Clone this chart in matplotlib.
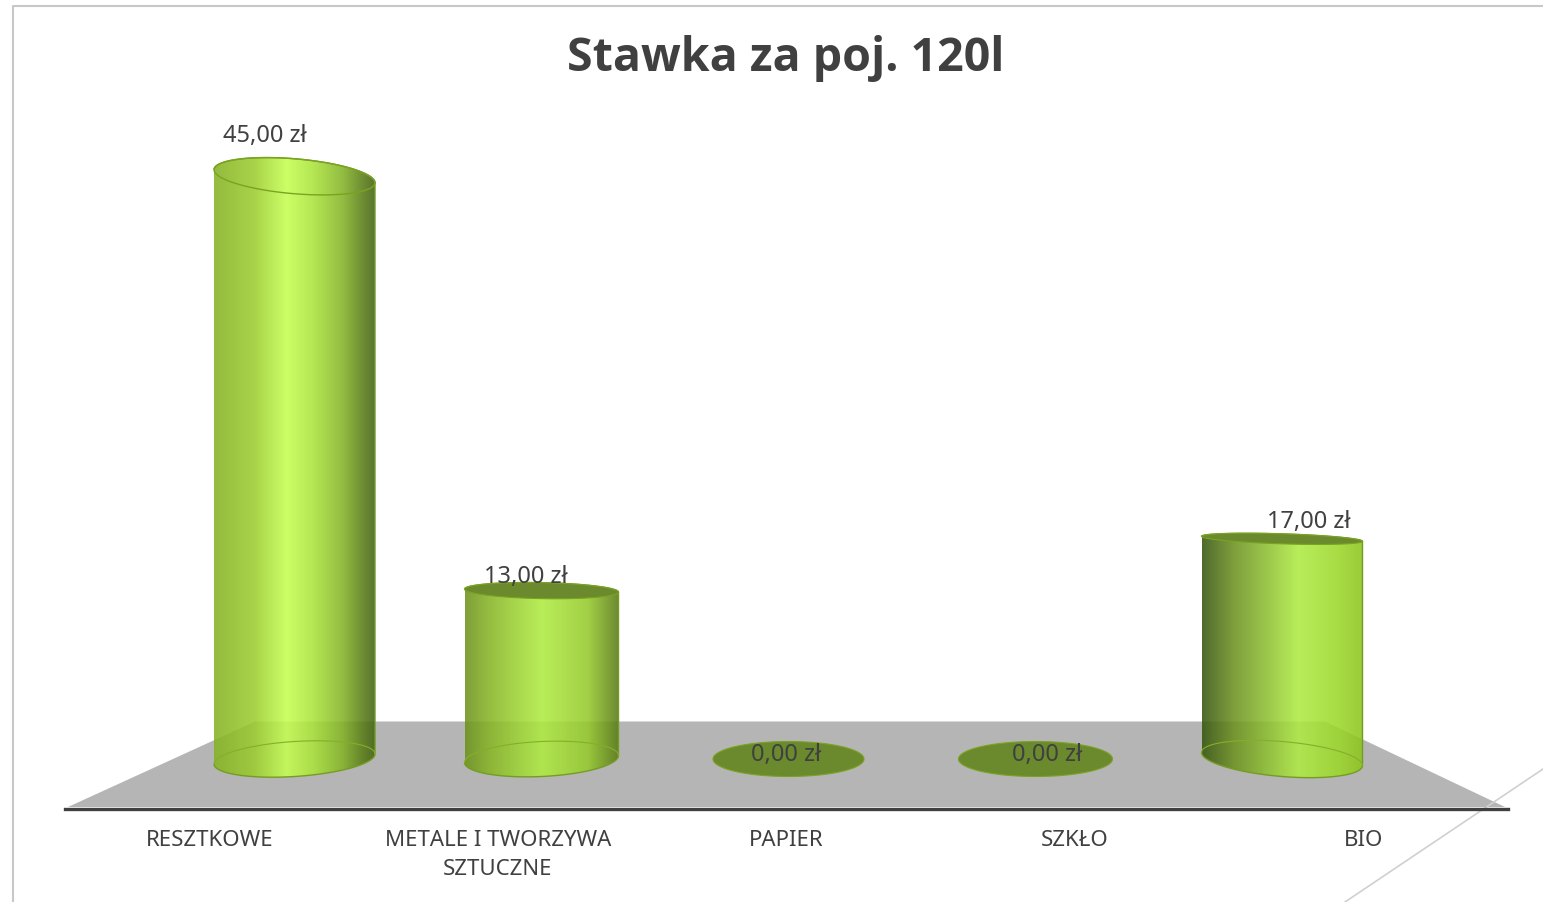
import numpy as np
from matplotlib import pyplot as plt
from matplotlib.colors import LinearSegmentedColormap, to_rgb
from matplotlib.patches import PathPatch, Polygon
from matplotlib.path import Path
from matplotlib.lines import Line2D

categories = ['RESZTKOWE', 'METALE I TWORZYWA\nSZTUCZNE', 'PAPIER', 'SZKŁO', 'BIO']
values = [45, 13, 0, 0, 17]
value_labels = ['45,00 zł', '13,00 zł', '0,00 zł', '0,00 zł', '17,00 zł']
title = 'Stawka za poj. 120l'

W, H = 1543, 903
PX_X = 247.0    # pixels per category on the bars axis
PX_Y = 12.95    # pixels per zloty
X0, Y0 = 294.5, 760.0
ALPHA = 0.88

# look of each cylinder (pixels), the fake 3d is different for every bar
half_widths = [80.5, 77, 75.5, 77, 80.5]
x_shift = [0, 0, 0, 0, -0.5]
top_b = [17.5, 8, 17.5, 17.5, 5]
top_tilt = [-6.5, -1.5, 0, 0, -2.5]
base_tilt = [5, 3.5, 0, 0, -6.5]
label_dx = [-30, -16, -2, 12, 26]
label_dy = [41, 15, 5, 5, 18]
ramps = [
    [(0, '#94bb3e'), (.25, '#a8d348'), (.45, '#ccff66'), (.62, '#b4e652'), (.8, '#93bd40'), (.92, '#6f8f33'), (1, '#5a7630')],
    [(0, '#7f9f38'), (.15, '#95bd40'), (.5, '#b9ee58'), (.8, '#a2d045'), (1, '#6c8a30')],
    [(0, '#6b8a2e'), (1, '#6b8a2e')],
    [(0, '#6b8a2e'), (1, '#6b8a2e')],
    [(0, '#4f6b2c'), (.2, '#7f9f3c'), (.6, '#b8ee5a'), (.85, '#a8dc44'), (1, '#9acb38')],
]

TEXT = '#404040'
plt.rcParams['font.family'] = ['Noto Sans', 'DejaVu Sans']

fig = plt.figure(figsize=(W / 100, H / 100), dpi=100)

# slide decoration and floor, in pixels
bg = fig.add_axes([0, 0, 1, 1])
bg.set_xlim(0, W)
bg.set_ylim(H, 0)
bg.axis('off')
bg.add_line(Line2D([13, 13, W], [H, 7, 7], color='#c8c8c8', lw=1.5))
bg.add_line(Line2D([W, 1345], [770, H], color='#d0d0d0', lw=1.2))
bg.add_patch(Polygon([(68, 808), (255, 722.5), (1325, 722.5), (1505, 808)], color='#b5b5b5', lw=0))

# axis with the category labels, its own spacing because of the perspective
base = fig.add_axes([65 / W, 1 - 809.5 / H, 1443 / W, 0.001])
base.patch.set_alpha(0)
base.set_xlim(-0.5, 4.5)
base.set_yticks([])
for s in ['top', 'left', 'right']:
    base.spines[s].set_visible(False)
base.spines['bottom'].set_color(TEXT)
base.spines['bottom'].set_linewidth(2.4)
base.set_xticks(range(len(categories)))
base.set_xticklabels(categories, fontsize=16, color=TEXT, linespacing=1.45)
base.tick_params(axis='x', length=0, pad=15)

# bars axis
ax = fig.add_axes([0, 0, 1, 1])
ax.patch.set_alpha(0)
ax.axis('off')
xlim = (-X0 / PX_X, (W - X0) / PX_X)
ylim = (-(H - Y0) / PX_Y, Y0 / PX_Y)


def ellipse(cx, y, a, b, tilt, t):
    return cx + a * np.cos(t), y + b * np.sin(t) + tilt * np.cos(t)


def under_alpha(colour):
    # colour that shows as the wanted one over white once it is see-through
    rgb = np.array(to_rgb(colour))
    return tuple(np.clip((rgb - (1 - ALPHA)) / ALPHA, 0, 1))


for i, v in enumerate(values):
    cx = i + x_shift[i] / PX_X
    a = half_widths[i] / PX_X
    b0 = 17.5 / PX_Y
    bt = top_b[i] / PX_Y
    tt = top_tilt[i] / PX_Y
    t0 = base_tilt[i] / PX_Y

    t = np.linspace(np.pi, 2 * np.pi, 60)
    xb, yb = ellipse(cx, 0, a, b0, t0, t)
    t = np.linspace(0, np.pi, 60)
    xt, yt = ellipse(cx, v, a, bt, tt, t)
    outline = np.column_stack([np.r_[xb, xt], np.r_[yb, yt]])

    if v > 0:
        stops = [(p, under_alpha(c)) for p, c in ramps[i]]
        cmap = LinearSegmentedColormap.from_list(f'c{i}', stops)
        img = ax.imshow(np.linspace(0, 1, 256)[None, :], cmap=cmap, aspect='auto', alpha=ALPHA,
                        extent=(cx - a, cx + a, -3, v + 3), zorder=2)
        clip = PathPatch(Path(outline), transform=ax.transData, fc='none', ec='none')
        ax.add_patch(clip)
        img.set_clip_path(clip)
        ax.add_patch(PathPatch(Path(outline), fc='none', ec='#759c22', lw=1, zorder=3))
        # back edge of the base
        t = np.linspace(0, np.pi, 60)
        xe, ye = ellipse(cx, 0, a, b0, t0, t)
        ax.plot(xe, ye, color='#86ae2a', lw=0.8, zorder=3)

    t = np.linspace(0, 2 * np.pi, 120)
    xe, ye = ellipse(cx, v, a, bt, tt, t)
    if i == 0:
        ax.plot(xe, ye, color='#7ba321', lw=1, zorder=4)
    else:
        ax.fill(xe, ye, color='#6b8a2e', ec='#7ba321', lw=0.8, zorder=4)

    ax.annotate(value_labels[i], (i, v), xytext=(label_dx[i] * 0.72, label_dy[i] * 0.72),
                textcoords='offset points', ha='center', va='center',
                fontsize=17, color=TEXT, zorder=5)

ax.set_xlim(*xlim)
ax.set_ylim(*ylim)

fig.text(786 / W, 1 - 58 / H, title, ha='center', va='center', fontsize=33.5, fontweight='bold',
         color=TEXT, family=['Open Sans', 'DejaVu Sans'])

fig.savefig('out.png', dpi=100)
